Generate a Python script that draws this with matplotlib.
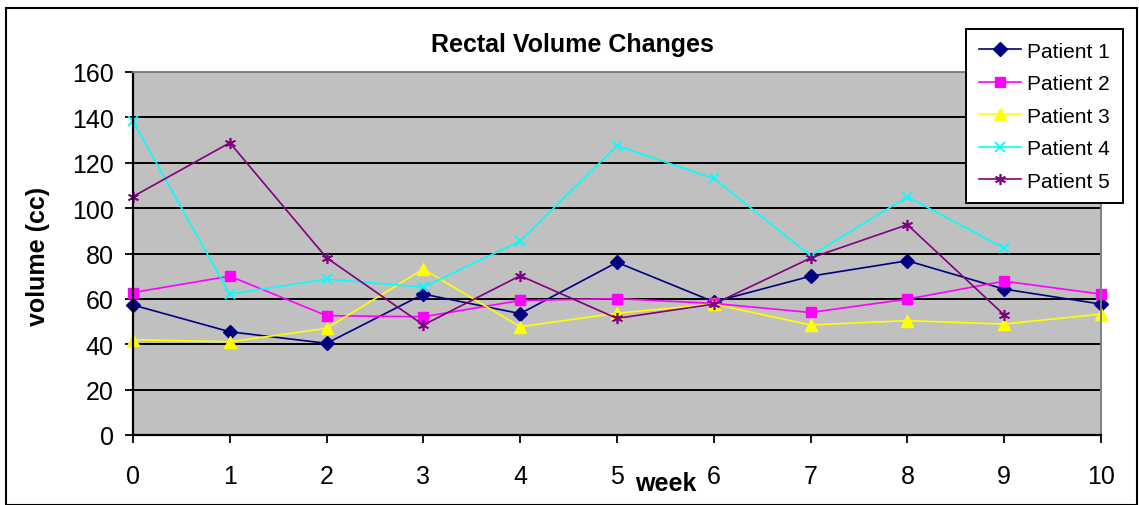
import numpy as np
import matplotlib.pyplot as plt
from matplotlib.patches import Rectangle

plt.rcParams['font.family'] = ['Liberation Sans', 'DejaVu Sans']

# Rectal volume (cc) per week
weeks = np.arange(0, 11)
patient1 = [57.3, 45.5, 40.4, 62.1, 53.5, 76.1, 58.7, 70.0, 76.8, 64.3, 57.7]
patient2 = [62.8, 70.0, 52.6, 52.1, 59.3, 60.1, 58.0, 54.0, 59.9, 67.8, 62.1]
patient3 = [42.0, 41.1, 47.0, 73.1, 47.7, 53.7, 57.7, 48.5, 50.4, 48.9, 53.3]
patient4 = [138.3, 62.1, 68.7, 65.2, 85.5, 127.5, 113.1, 79.0, 105.0, 82.4]
patient5 = [105.1, 128.8, 78.1, 48.5, 70.2, 51.4, 57.7, 78.0, 92.7, 52.9]

W, H = 1139, 506
fig = plt.figure(figsize=(W / 100, H / 100), dpi=100)
ax = fig.add_axes([133 / W, 1 - 436 / H, (1101 - 133) / W, (436 - 73) / H])
ax.set_facecolor('#C0C0C0')

ax.plot(weeks, patient1, color='#000080', marker='D', markersize=7, lw=1.2, label='Patient 1', clip_on=False)
ax.plot(weeks, patient2, color='#FF00FF', marker='s', markersize=7, lw=1.2, label='Patient 2', clip_on=False)
ax.plot(weeks, patient3, color='#FFFF00', marker='^', markersize=9, lw=1.2, label='Patient 3', clip_on=False)
ax.plot(weeks[:10], patient4, color='#00FFFF', marker='x', markersize=7, mew=1.3, lw=1.2,
        label='Patient 4', clip_on=False)
ax.plot(weeks[:10], patient5, color='#800080', marker=(6, 2, 0), markersize=8, mew=1.2, lw=1.2,
        label='Patient 5', clip_on=False)

ax.set_xlim(0, 10)
ax.set_ylim(0, 160)
ax.set_xticks(weeks)
ax.set_yticks(np.arange(0, 161, 20))
ax.yaxis.grid(True, color='black', lw=1.4)
ax.set_axisbelow(True)
ax.tick_params(axis='both', direction='out', length=6, width=1.3, labelsize=18, color='black')
ax.tick_params(axis='y', pad=8)
ax.tick_params(axis='x', pad=15)

for s in ['left', 'bottom']:
    ax.spines[s].set_color('black')
    ax.spines[s].set_linewidth(1.6)
for s in ['top', 'right']:
    ax.spines[s].set_color('#808080')
    ax.spines[s].set_linewidth(1.4)

fig.text(572 / W, 1 - 45 / H, 'Rectal Volume Changes', ha='center', va='center',
         fontsize=18, fontweight='bold')
fig.text(666 / W, 1 - 484 / H, 'week', ha='center', va='center', fontsize=18, fontweight='bold')
fig.text(38 / W, 1 - 256 / H, 'volume (cc)', ha='center', va='center', rotation=90,
         fontsize=18, fontweight='bold')

leg = ax.legend(loc='upper left', bbox_to_anchor=(966 / W, 1 - 30 / H),
                bbox_transform=fig.transFigure, fontsize=15, frameon=True,
                fancybox=False, framealpha=1, edgecolor='black', handlelength=2.05,
                labelspacing=0.65, borderpad=0.6, handletextpad=0.3, borderaxespad=0)
leg.get_frame().set_linewidth(1.4)
leg.set_zorder(10)

fig.patches.append(Rectangle((6 / W, 0.5 / H), (1137 - 6) / W, (H - 9 - 0.5) / H,
                             transform=fig.transFigure, fill=False, edgecolor='black', lw=1.5))

fig.savefig('out.png', dpi=100)
